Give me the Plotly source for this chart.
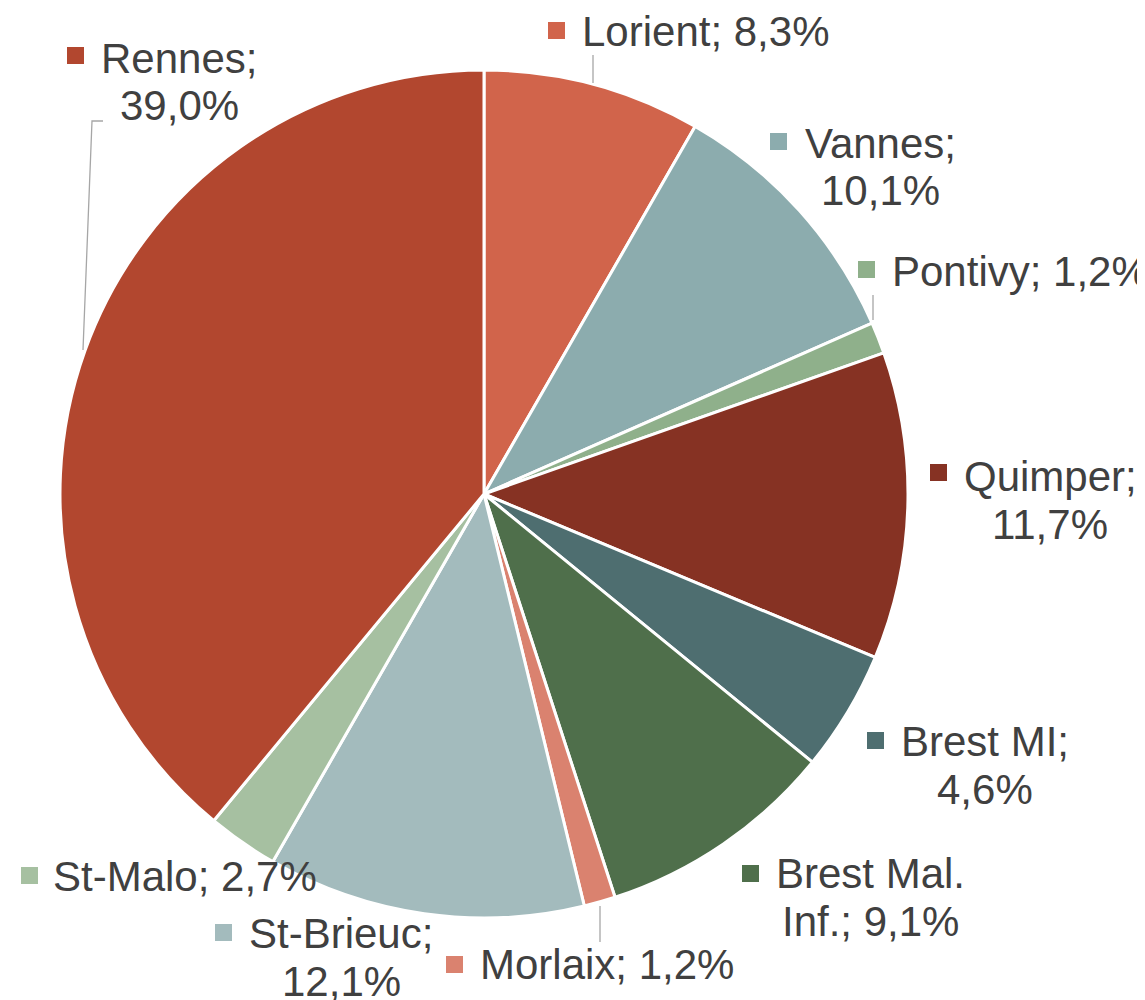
import plotly.graph_objects as go

# page body has an 8px margin, so the figure is drawn from (8, 8)
OFF = 8
W, H = 1145 - OFF, 1000 - OFF

cities = ["Lorient", "Vannes", "Pontivy", "Quimper", "Brest MI",
          "Brest Mal. Inf.", "Morlaix", "St-Brieuc", "St-Malo", "Rennes"]
shares = [8.3, 10.1, 1.2, 11.7, 4.6, 9.1, 1.2, 12.1, 2.7, 39.0]
colors = ["#D1644B", "#8CACAE", "#8FB08B", "#863223", "#4E6E70",
          "#4F6F4B", "#DA826F", "#A3BBBD", "#A6C0A1", "#B2472F"]

# label layout in page pixels: text centre x, first line middle y, square left x, square top y, break
label_pos = {
    "Lorient": (706, 31, 548, 22, None),
    "Vannes": (880, 143, 770, 133, "; "),
    "Pontivy": (1020, 271, 858, 261, None),
    "Quimper": (1050, 476, 930, 464, "; "),
    "Brest MI": (985, 741, 867, 732, "; "),
    "Brest Mal. Inf.": (870, 873, 742, 865, "Mal. "),
    "Morlaix": (607, 964, 446, 956, None),
    "St-Brieuc": (341, 933, 215, 924, "; "),
    "St-Malo": (185, 876, 21, 867, None),
    "Rennes": (179, 58, 67, 47, "; "),
}
# leader lines in page pixels
leaders = {
    "Lorient": [(593, 55), (593, 83)],
    "Pontivy": [(873, 295), (873, 320)],
    "Morlaix": [(600, 906), (600, 942)],
    "Rennes": [(103, 121), (92, 121), (83, 350)],
}


def px(x):
    return (x - OFF) / W


def py(y):
    return 1 - (y - OFF) / H


cx, cy, r = 484, 494, 424

fig = go.Figure(go.Pie(
    labels=cities,
    values=shares,
    sort=False,
    direction="clockwise",
    rotation=0,
    marker=dict(colors=colors, line=dict(color="white", width=3)),
    textinfo="none",
    textposition="none",
    domain=dict(x=[px(cx - r), px(cx + r)], y=[py(cy + r), py(cy - r)]),
    showlegend=False,
))

annotations = []
shapes = []
for city, v, col in zip(cities, shares, colors):
    tx, ty, sx, sy, brk = label_pos[city]
    full = f"{city}; " + f"{v:.1f}".replace(".", ",") + "%"
    if brk:
        i = full.index(brk) + len(brk)
        lines = [full[:i].rstrip(), full[i:]]
    else:
        lines = [full]
    for k, line in enumerate(lines):
        annotations.append(dict(
            x=px(tx), y=py(ty + 48 * k), xref="paper", yref="paper",
            text=line, showarrow=False, xanchor="center", yanchor="middle",
            font=dict(family="Liberation Sans, Arial", size=42, color="#404040"),
        ))
    shapes.append(dict(type="rect", xref="paper", yref="paper",
                       x0=px(sx), x1=px(sx + 17), y0=py(sy), y1=py(sy + 17),
                       fillcolor=col, line=dict(width=0)))

for city, pts in leaders.items():
    path = "M " + " L ".join(f"{px(x)},{py(y)}" for x, y in pts)
    shapes.append(dict(type="path", xref="paper", yref="paper", path=path,
                       line=dict(color="#A6A6A6", width=1.3)))

fig.update_layout(
    width=W, height=H,
    margin=dict(l=0, r=0, t=0, b=0),
    paper_bgcolor="white",
    plot_bgcolor="white",
    annotations=annotations,
    shapes=shapes,
)

fig.write_html("out.html")
